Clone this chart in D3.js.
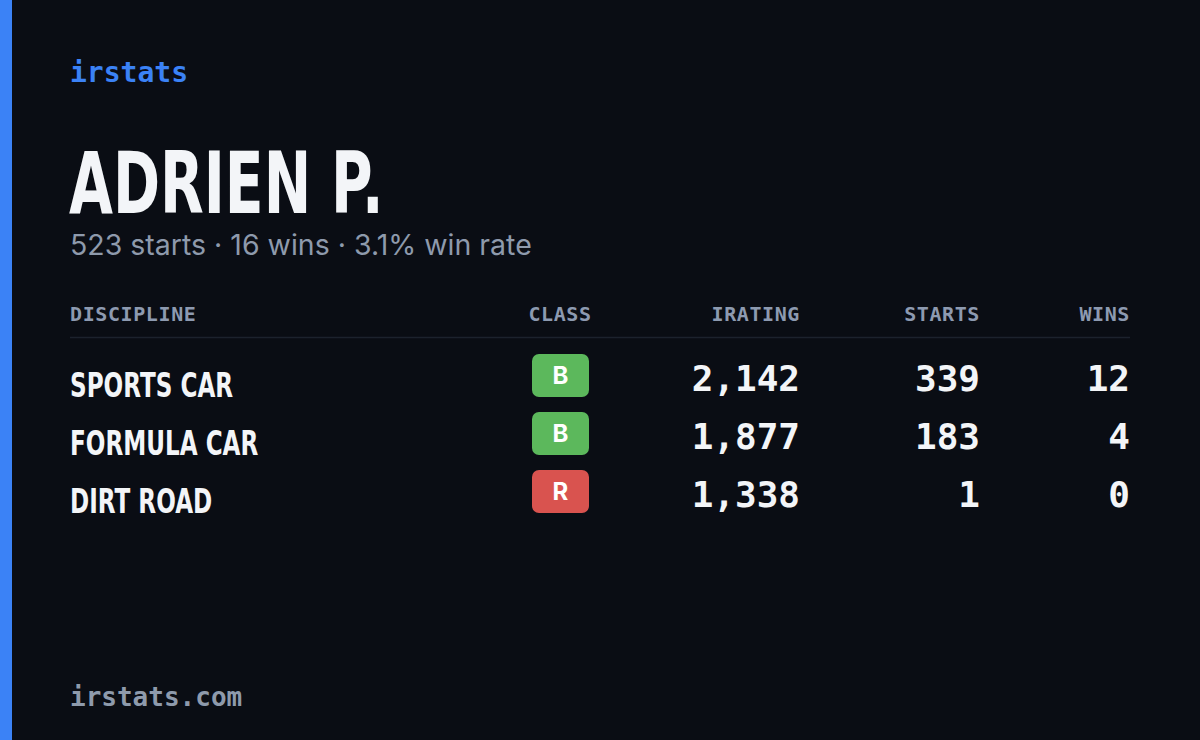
<!DOCTYPE html>
<html><head><meta charset="utf-8">
<script src="https://cdn.jsdelivr.net/npm/d3@7"></script>
<style>body{margin:0;background:#0a0d14;}svg{display:block}</style>
</head><body>
<script>
const disciplines = ["SPORTS CAR","FORMULA CAR","DIRT ROAD"];
const classes = ["B","B","R"];
const iratings = [2142,1877,1338];
const starts = [339,183,1];
const wins = [12,4,0];
const headers = ["DISCIPLINE","CLASS","IRATING","STARTS","WINS"];
const driver = "ADRIEN P.";
const summary = "523 starts · 16 wins · 3.1% win rate";

const W=1200,H=740;
const svg=d3.select("body").append("svg").attr("width",W).attr("height",H);
svg.append("rect").attr("width",W).attr("height",H).attr("fill","#0a0d14");
svg.append("rect").attr("width",12).attr("height",H).attr("fill","#3b82f6");
const mono="'DejaVu Sans Mono','Liberation Mono',monospace";
const cond="'DejaVu Sans','Roboto',sans-serif";
svg.append("text").attr("x",70).attr("y",82).attr("fill","#3b82f6").attr("font-family",mono).attr("font-weight",600).attr("font-size",28).text("irstats");
svg.append("text").attr("transform","translate(69,213) scale(0.66,1)").attr("fill","#f3f5f8").attr("font-family",cond).attr("font-weight",700).attr("font-size",86).text(driver);
svg.append("text").attr("x",70).attr("y",255).attr("fill","#8e9aac").attr("font-family","Inter,sans-serif").attr("font-size",28.5).attr("letter-spacing",0).text(summary);

const colX=[70,560,800,980,1130], anchors=["start","middle","end","end","end"];
headers.forEach((h,i)=>svg.append("text").attr("x",colX[i]).attr("y",321).attr("text-anchor",anchors[i])
  .attr("fill","#8d9ab0").attr("font-family",mono).attr("font-weight",600).attr("font-size",20).attr("letter-spacing",0.6).text(h));
svg.append("line").attr("x1",70).attr("x2",1130).attr("y1",337.5).attr("y2",337.5).attr("stroke","#1c222d").attr("stroke-width",1.5);

const y=d3.scalePoint().domain(disciplines).range([0,116]);
const fmt=d3.format(",");
disciplines.forEach((d,i)=>{
  const base=y(d);
  svg.append("text").attr("transform",`translate(70,${397+base}) scale(0.68,1)`).attr("fill","#f3f5f8").attr("font-family",cond).attr("font-weight",700).attr("font-size",34).text(d);
  svg.append("rect").attr("x",532).attr("y",354+base).attr("width",57).attr("height",43).attr("rx",7)
    .attr("fill",classes[i]==="R"?"#d9534f":"#5cb85c");
  svg.append("text").attr("x",560.5).attr("y",384+base).attr("text-anchor","middle").attr("fill","#fff")
    .attr("font-family","Inter,sans-serif").attr("font-weight",700).attr("font-size",24).text(classes[i]);
  [[iratings[i],2],[starts[i],3],[wins[i],4]].forEach(([v,c])=>
    svg.append("text").attr("x",colX[c]).attr("y",391+base).attr("text-anchor","end").attr("fill","#f3f5f8")
      .attr("font-family",mono).attr("font-weight",700).attr("font-size",36).text(fmt(v)));
});
svg.append("text").attr("x",70).attr("y",706).attr("fill","#8e9aac").attr("font-family",mono).attr("font-weight",600).attr("font-size",26).text("irstats.com");
</script>
</body></html>
